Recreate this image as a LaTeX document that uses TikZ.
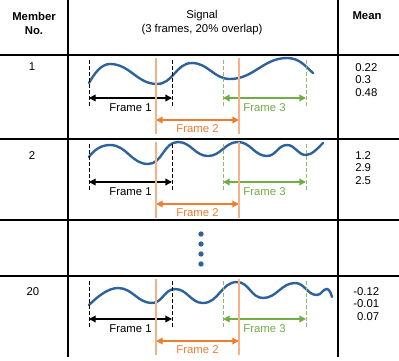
\documentclass[tikz,border=0pt]{standalone}
\usepackage{fontspec}
\setmainfont{Liberation Sans}
\usetikzlibrary{arrows.meta}

\definecolor{wavecol}{RGB}{46,98,155}
\definecolor{frameorange}{RGB}{237,125,49}
\definecolor{lightorange}{RGB}{246,178,134}
\definecolor{framegreen}{RGB}{112,173,71}

\tikzset{
  tableline/.style={line width=1pt, black},
  txt/.style={font=\fontsize{8.5}{10.5}\selectfont, inner sep=0pt},
  hdr/.style={txt, font=\fontsize{8.5}{10.5}\selectfont\bfseries, align=center},
  meanvals/.style={txt, font=\fontsize{8.5}{9.5}\selectfont, align=left, anchor=west},
  signal/.style={wavecol, line width=1.8pt, line cap=round},
  blackdash/.style={black, line width=0.7pt, dash pattern=on 3pt off 1.5pt},
  greendash/.style={framegreen!80, line width=0.7pt, dash pattern=on 3pt off 1.5pt},
  orangeline/.style={lightorange, line width=1.5pt},
  span/.style={line width=1pt, {Triangle[length=5pt,width=5pt]}-{Triangle[length=5pt,width=5pt]}},
  dot/.style={circle, fill=wavecol, inner sep=0pt, minimum size=4pt},
}

\begin{document}
\begin{tikzpicture}[x=0.75pt,y=0.75pt,yscale=-1,xscale=1]
    \path[use as bounding box] (0,0) rectangle (399,360);

    %Table lines
    \draw[tableline] (0,55) -- (399,55);
    \draw[tableline] (0,139) -- (399,139);
    \draw[tableline] (0,220) -- (399,220);
    \draw[tableline] (0,276) -- (399,276);
    \draw[tableline] (68,0) -- (68,357);
    \draw[tableline] (338,0) -- (338,357);

    %Header
    \node[hdr] (member) at (34,23) {Member\\No.};
    \node[txt, align=center] (signalhdr) at (202,23) {Signal\\(3 frames, 20\% overlap)};
    \node[hdr] (mean) at (367,16) {Mean};

    %Signals
    \draw[signal] (89,83) .. controls (94,74) and (101,64) .. (110,64)
      to[out=0,in=180] (157,84) to[out=0,in=180] (192,63)
      to[out=0,in=180] (230,79) to[out=0,in=180] (287,58)
      .. controls (300,58) and (306,67) .. (313,73);
    \draw[signal] (89,157) .. controls (94,150) and (101,145) .. (110,145)
      to[out=0,in=180] (148,164) to[out=0,in=180] (178,142)
      to[out=0,in=180] (208,156) to[out=0,in=180] (238,142)
      to[out=0,in=180] (267,156) to[out=0,in=180] (287,145)
      to[out=0,in=180] (306,155)
      .. controls (312,155) and (318,148) .. (323,143);
    \draw[signal] (89,305) .. controls (97,297) and (108,288) .. (118,288)
      to[out=0,in=180] (152,303) to[out=0,in=180] (175,289)
      to[out=0,in=180] (203,303) to[out=0,in=180] (237,282)
      to[out=0,in=180] (263,298) to[out=0,in=180] (295,283)
      to[out=0,in=180] (317,295) to[out=0,in=180] (327,289)
      .. controls (329,289) and (331,293) .. (332,297);

    %Frames of each member
    \foreach \r/\t in {1/55,2/139,20/276}{
      \draw[blackdash] (89,\t+5) -- (89,\t+51);
      \draw[blackdash] (172,\t+5) -- (172,\t+51);
      \draw[greendash] (223,\t+5) -- (223,\t+51);
      \draw[greendash] (306,\t+5) -- (306,\t+51);
      \coordinate (fa-\r) at (89,\t+43);
      \coordinate (fb-\r) at (172,\t+43);
      \coordinate (fc-\r) at (156,\t+65);
      \coordinate (fd-\r) at (239,\t+65);
      \coordinate (fe-\r) at (223,\t+43);
      \coordinate (ff-\r) at (306,\t+43);
      \draw[span, black] (fa-\r) -- (fb-\r);
      \draw[span, frameorange] (fc-\r) -- (fd-\r);
      \draw[span, framegreen] (fe-\r) -- (ff-\r);
      \draw[orangeline] (156,\t+3) -- (156,\t+79);
      \draw[orangeline] (239,\t+3) -- (239,\t+79);
      \node[txt] (frameone-\r) at (130.5,\t+53) {Frame 1};
      \node[txt, text=frameorange] (frametwo-\r) at (197.5,\t+74) {Frame 2};
      \node[txt, text=framegreen] (framethree-\r) at (264.5,\t+53) {Frame 3};
    }

    %Dots
    \node[dot] (dota) at (201,234) {};
    \node[dot] (dotb) at (201,244) {};
    \node[dot] (dotc) at (201,254) {};
    \node[dot] (dotd) at (201,264) {};

    %Member numbers
    \node[txt] (num1) at (32,67) {1};
    \node[txt] (num2) at (32,156) {2};
    \node[txt] (num20) at (33,292) {20};

    %Means
    \node[meanvals] (mean1) at (355,80) {0.22\\0.3\\0.48};
    \node[meanvals] (mean2) at (355,168) {1.2\\2.9\\2.5};
    \node[meanvals] (mean20) at (353,304) {-0.12\\-0.01\\\hphantom{-}0.07};

\end{tikzpicture}
\end{document}
